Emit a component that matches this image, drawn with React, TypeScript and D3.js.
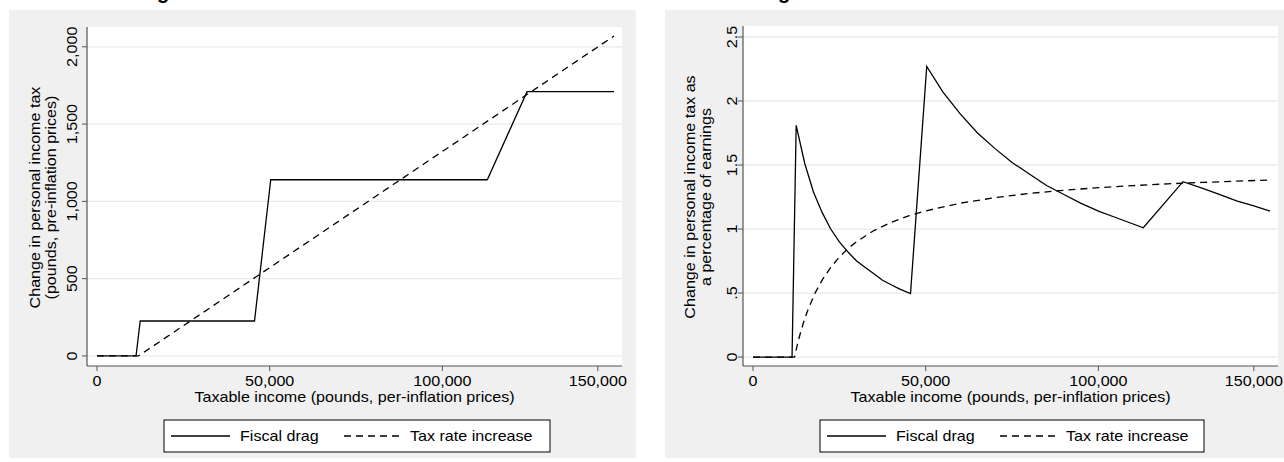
import React from "react";
import * as d3 from "d3";

// Values (income in pounds)
const X_TICKS = [0, 50000, 100000, 145000];
const X_TICK_LABELS = ["0", "50,000", "100,000", "150,000"];

const LEVEL_TICKS = [0, 500, 1000, 1500, 2000];
const LEVEL_TICK_LABELS = ["0", "500", "1,000", "1,500", "2,000"];
const PCT_TICKS = [0, 0.5, 1, 1.5, 2, 2.5];
const PCT_TICK_LABELS = ["0", ".5", "1", "1.5", "2", "2.5"];

// left panel: change in tax, pounds
const FD_LEVEL_X = [0, 11300, 12500, 45600, 50300, 113000, 124500, 149700];
const FD_LEVEL_Y = [0, 0, 226, 226, 1140, 1140, 1710, 1710];
const TR_LEVEL_X = [0, 12000, 149700];
const TR_LEVEL_Y = [0, 0, 2070];

// right panel: change in tax as % of earnings
const FD_PCT_X = [0, 11300, 12500, 15000, 17500, 20000, 22500, 25000, 27500, 30000, 32500, 35000, 37500, 40000, 42500, 45600,
  50300, 55000, 60000, 65000, 70000, 75000, 80000, 85000, 90000, 95000, 100000, 105000, 113000,
  124500, 130000, 135000, 140000, 145000, 149700];
const FD_PCT_Y = [0, 0, 1.81, 1.51, 1.29, 1.13, 1.0, 0.9, 0.82, 0.75, 0.7, 0.65, 0.6, 0.565, 0.53, 0.496,
  2.27, 2.07, 1.9, 1.75, 1.63, 1.52, 1.43, 1.34, 1.27, 1.2, 1.14, 1.09, 1.01,
  1.37, 1.32, 1.27, 1.22, 1.18, 1.14];
const TR_PCT_X = [0, 12000, 13000, 14000, 15000, 16000, 18000, 20000, 22500, 25000, 27500, 30000, 35000, 40000, 45000,
  50000, 60000, 70000, 80000, 90000, 100000, 110000, 120000, 130000, 140000, 149700];
const TR_PCT_Y = [0, 0, 0.116, 0.215, 0.301, 0.376, 0.501, 0.601, 0.701, 0.781, 0.847, 0.902, 0.988, 1.052, 1.102,
  1.142, 1.202, 1.245, 1.278, 1.303, 1.323, 1.339, 1.353, 1.364, 1.374, 1.383];

const FONT = "'Liberation Sans', Arial, Helvetica, sans-serif";
const FS = 14;
const STRETCH = 1.15; // the reference text is a bit wider than plain Arial
const X_DOMAIN: [number, number] = [-2900, 152000];

type Box = { x: number; y: number; w: number; h: number };

function T({ x, y, rot = 0, anchor = "start", size = FS, children }: {
  x: number; y: number; rot?: number; anchor?: string; size?: number; children: React.ReactNode;
}) {
  return (
    <text
      transform={`translate(${x},${y}) rotate(${rot}) scale(${STRETCH},1)`}
      textAnchor={anchor}
      fontFamily={FONT}
      fontSize={size}
      fill="#000"
    >
      {children}
    </text>
  );
}

interface PanelProps {
  bg: Box;
  plot: Box;
  yDomain: [number, number];
  yTicks: number[];
  yTickLabels: string[];
  yLabelX: number;
  titleLines: string[];
  titleX: number[];
  fd: [number[], number[]];
  tr: [number[], number[]];
  legend: Box;
  fragX: number;
}

function Panel(p: PanelProps) {
  const { plot } = p;
  const x = d3.scaleLinear().domain(X_DOMAIN).range([plot.x, plot.x + plot.w]);
  const y = d3.scaleLinear().domain(p.yDomain).range([plot.y + plot.h, plot.y]);
  const line = d3
    .line<[number, number]>()
    .x((d) => x(d[0]))
    .y((d) => y(d[1]));
  const fdPts = p.fd[0].map((v, i) => [v, p.fd[1][i]] as [number, number]);
  const trPts = p.tr[0].map((v, i) => [v, p.tr[1][i]] as [number, number]);
  const bottom = plot.y + plot.h;
  const midY = plot.y + plot.h / 2 + 1;
  const lg = p.legend;
  const lgMid = lg.y + lg.h / 2;

  return (
    <g>
      <text x={p.fragX} y={-1} fontFamily={FONT} fontSize={20} fontWeight="bold" fill="#000">
        g
      </text>
      <rect x={p.bg.x} y={p.bg.y} width={p.bg.w} height={p.bg.h} fill="#f0f0f0" />
      <rect x={plot.x} y={plot.y} width={plot.w} height={plot.h} fill="#ffffff" />
      {p.yTicks.map((t) => (
        <line key={"g" + t} x1={plot.x} x2={plot.x + plot.w} y1={y(t)} y2={y(t)} stroke="#eaeaea" strokeWidth={1.3} />
      ))}
      <path d={line(trPts) || ""} fill="none" stroke="#000" strokeWidth={1.3} strokeDasharray="7,5" />
      <path d={line(fdPts) || ""} fill="none" stroke="#000" strokeWidth={1.3} />
      {/* axes */}
      <line x1={plot.x} x2={plot.x} y1={plot.y} y2={bottom} stroke="#555" strokeWidth={1.2} />
      <line x1={plot.x} x2={plot.x + plot.w} y1={bottom} y2={bottom} stroke="#555" strokeWidth={1.2} />
      {p.yTicks.map((t, i) => (
        <g key={"yt" + t}>
          <line x1={plot.x - 5} x2={plot.x} y1={y(t)} y2={y(t)} stroke="#555" strokeWidth={1} />
          <T x={p.yLabelX} y={y(t)} rot={-90} anchor="middle">
            {p.yTickLabels[i]}
          </T>
        </g>
      ))}
      {X_TICKS.map((t, i) => (
        <g key={"xt" + t}>
          <line x1={x(t)} x2={x(t)} y1={bottom} y2={bottom + 5} stroke="#555" strokeWidth={1} />
          <T x={x(t)} y={bottom + 20} anchor="middle">
            {X_TICK_LABELS[i]}
          </T>
        </g>
      ))}
      <T x={plot.x + plot.w / 2} y={bottom + 36} anchor="middle">
        Taxable income (pounds, per-inflation prices)
      </T>
      {p.titleLines.map((s, i) => (
        <T key={s} x={p.titleX[i]} y={midY} rot={-90} anchor="middle">
          {s}
        </T>
      ))}
      {/* legend */}
      <rect x={lg.x} y={lg.y} width={lg.w} height={lg.h} fill="#fff" stroke="#000" strokeWidth={1} />
      <line x1={lg.x + 7} x2={lg.x + 66} y1={lgMid} y2={lgMid} stroke="#000" strokeWidth={1.3} />
      <T x={lg.x + 76} y={lgMid + 5}>Fiscal drag</T>
      <line x1={lg.x + 180} x2={lg.x + 238} y1={lgMid} y2={lgMid} stroke="#000" strokeWidth={1.3} strokeDasharray="7,5" />
      <T x={lg.x + 246} y={lgMid + 5}>Tax rate increase</T>
    </g>
  );
}

export default function App() {
  return (
    <svg
      width={1284}
      height={462}
      style={{ position: "fixed", left: 0, top: 0, background: "#fff" }}
    >
      <Panel
        bg={{ x: 9, y: 10, w: 627, h: 448 }}
        plot={{ x: 87, y: 27, w: 535, h: 339 }}
        yDomain={[-65, 2128]}
        yTicks={LEVEL_TICKS}
        yTickLabels={LEVEL_TICK_LABELS}
        yLabelX={77}
        titleLines={["Change in personal income tax", "(pounds, pre-inflation prices)"]}
        titleX={[40, 56]}
        fd={[FD_LEVEL_X, FD_LEVEL_Y]}
        tr={[TR_LEVEL_X, TR_LEVEL_Y]}
        legend={{ x: 164, y: 420, w: 386, h: 32 }}
        fragX={157}
      />
      <Panel
        bg={{ x: 665, y: 10, w: 619, h: 448 }}
        plot={{ x: 743, y: 26, w: 535, h: 340 }}
        yDomain={[-0.07, 2.586]}
        yTicks={PCT_TICKS}
        yTickLabels={PCT_TICK_LABELS}
        yLabelX={737}
        titleLines={["Change in personal income tax as", "a percentage of earnings"]}
        titleX={[695, 711]}
        fd={[FD_PCT_X, FD_PCT_Y]}
        tr={[TR_PCT_X, TR_PCT_Y]}
        legend={{ x: 820, y: 420, w: 384, h: 32 }}
        fragX={778}
      />
    </svg>
  );
}
